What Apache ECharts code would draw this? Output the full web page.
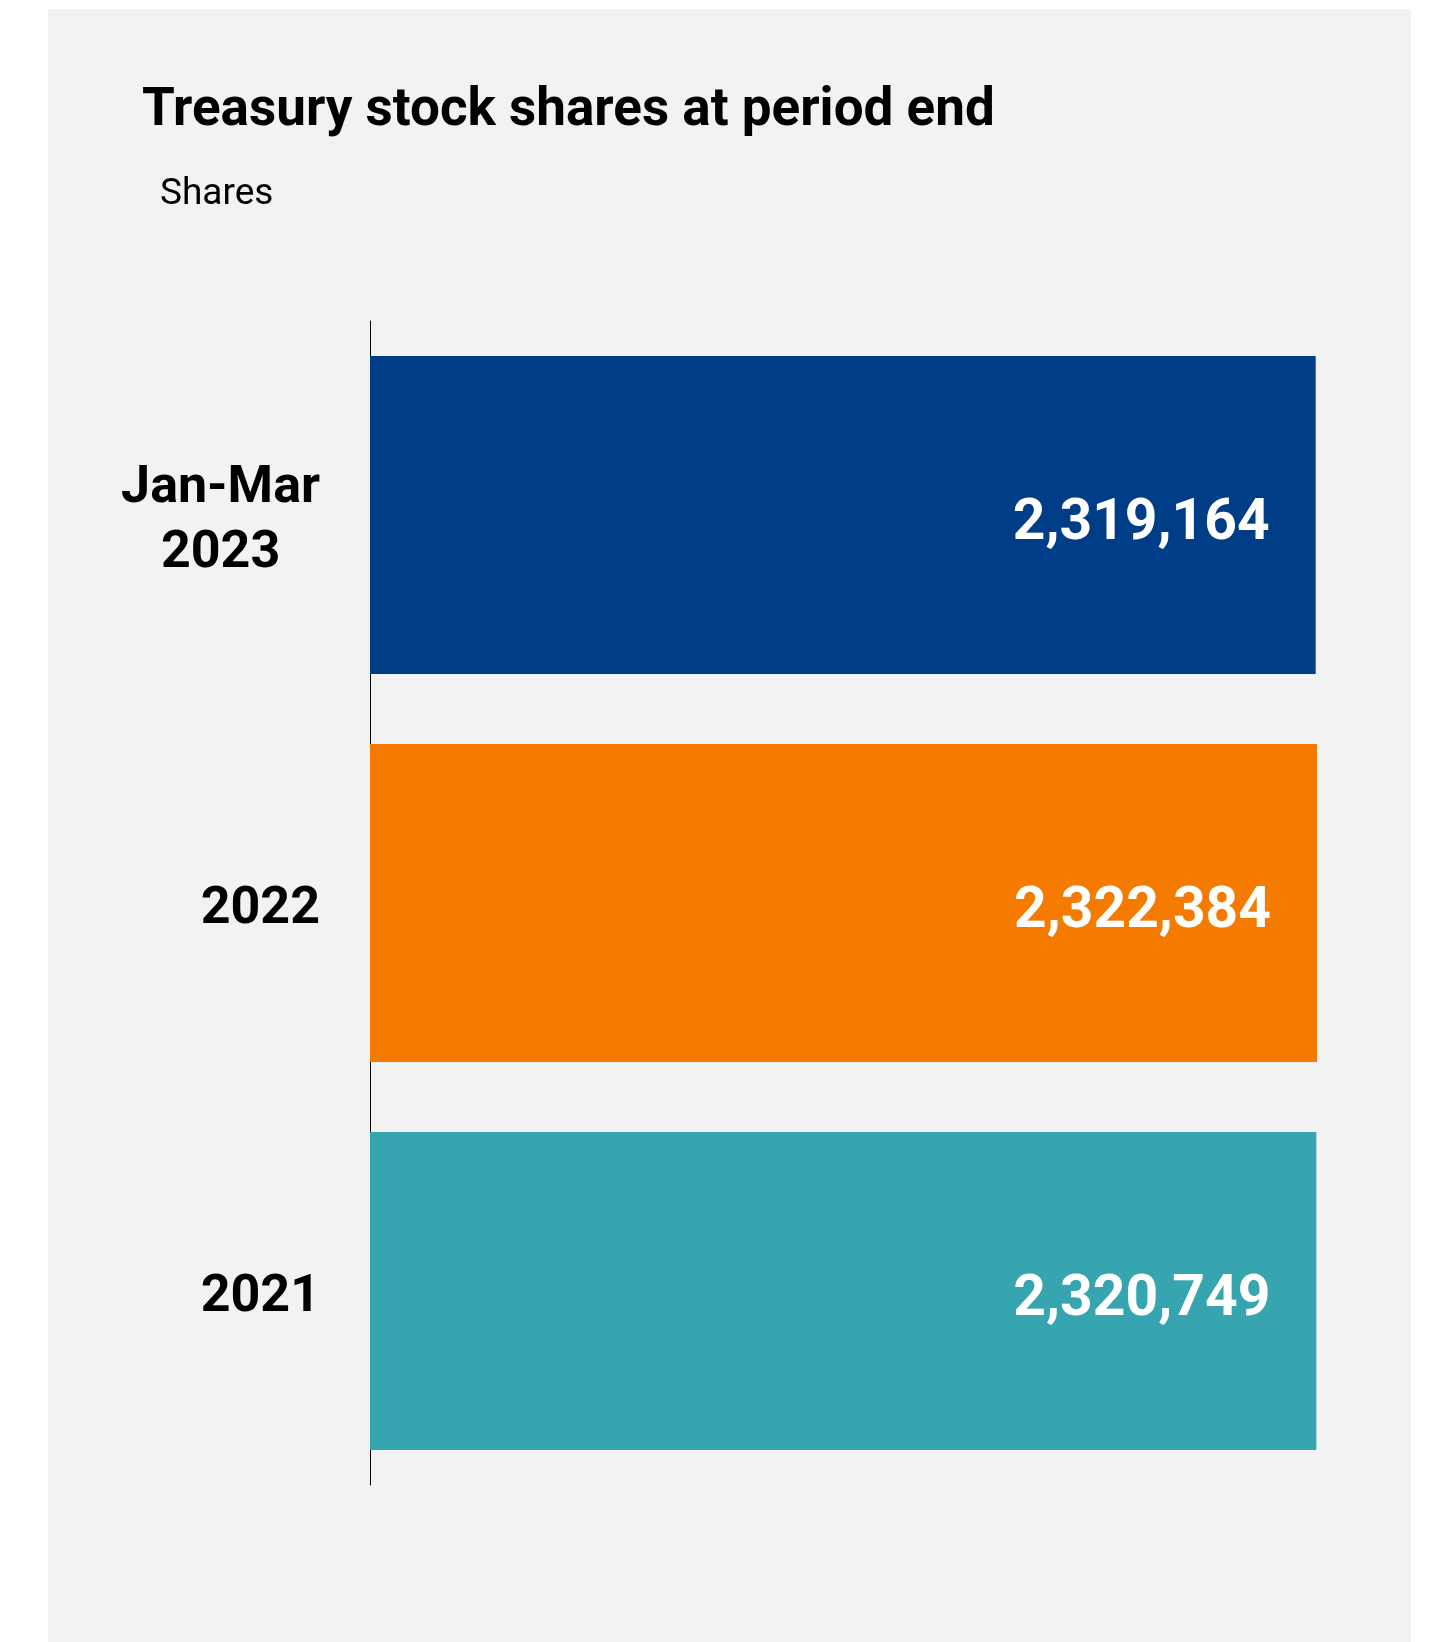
<!DOCTYPE html>
<html>
<head>
<meta charset="utf-8">
<script src="https://cdn.jsdelivr.net/npm/echarts@6/dist/echarts.min.js"></script>
<style>
    html, body { margin: 0; padding: 0; background: #ffffff; }
    #panel { position: absolute; left: 48px; top: 9px; width: 1363px; height: 1633px; background: #f2f2f2; }
    #chart { position: absolute; left: 0; top: 0; width: 1439px; height: 1642px; }
</style>
</head>
<body>
<div id="panel"></div>
<div id="chart"></div>
<script>
// chart data
const categories = ["Jan-Mar\n2023", "2022", "2021"];
const shares = [2319164, 2322384, 2320749];
const barColors = ["#003d87", "#f47b00", "#36a5b0"];

document.addEventListener("DOMContentLoaded", function () {
    const chart = echarts.init(document.getElementById("chart"), null, { renderer: "canvas" });
    const font = "Roboto, 'Noto Sans', sans-serif";

    chart.setOption({
        animation: false,
        textStyle: { fontFamily: font },
        title: [
            {
                text: "Treasury stock shares at period end",
                left: 137,
                top: 80,
                textStyle: { fontSize: 53, fontWeight: "bold", color: "#000", fontFamily: font }
            },
            {
                text: "Shares",
                left: 155,
                top: 171,
                textStyle: { fontSize: 37, fontWeight: "normal", color: "#000", fontFamily: font }
            }
        ],
        grid: { left: 370, right: 122, top: 321, bottom: 157, containLabel: false },
        xAxis: {
            type: "value",
            min: 0,
            max: "dataMax",
            show: false
        },
        yAxis: {
            type: "category",
            data: categories,
            inverse: true,
            axisLine: { show: true, lineStyle: { color: "#000", width: 1 } },
            axisTick: { show: false },
            axisLabel: {
                margin: 50,
                align: "right",
                padding: [13, 0, 0, 0],
                formatter: (v) => v.split("\n").map((s) => "{c|" + s + "}").join("\n"),
                rich: {
                    c: { align: "center", fontSize: 52, fontWeight: "bold", color: "#000", lineHeight: 65, fontFamily: font }
                }
            }
        },
        series: [
            {
                type: "bar",
                data: shares,
                barCategoryGap: "18%",
                itemStyle: { color: (p) => barColors[p.dataIndex] },
                label: {
                    show: true,
                    position: "insideRight",
                    distance: 46,
                    offset: [0, 10],
                    color: "#fff",
                    fontSize: 57,
                    fontWeight: "bold",
                    fontFamily: font,
                    formatter: (p) => p.value.toLocaleString("en-US")
                }
            }
        ]
    });
});
</script>
</body>
</html>
